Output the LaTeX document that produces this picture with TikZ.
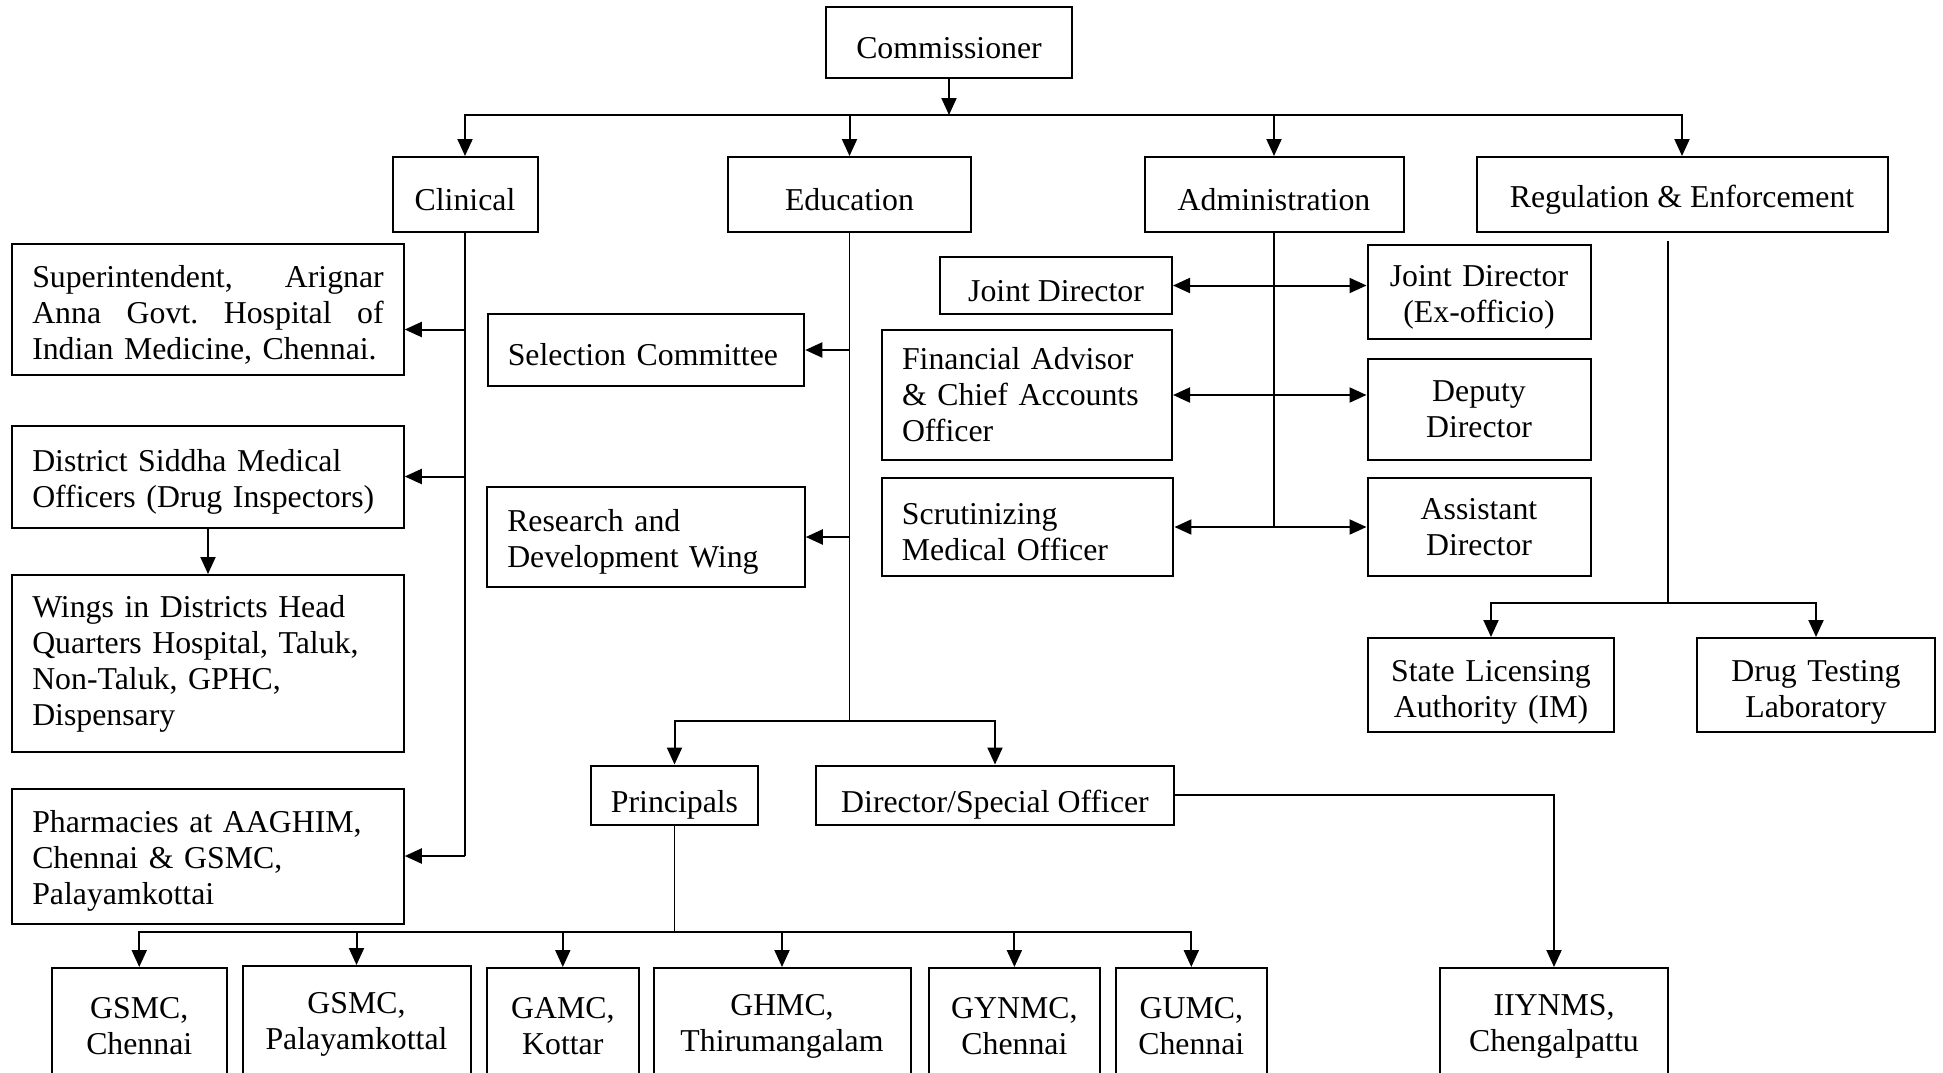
\documentclass[tikz,border=0pt]{standalone}
\usepackage{fontspec}
\setmainfont{Liberation Serif}
\usetikzlibrary{arrows.meta,positioning}
\newcommand{\boxfont}{\fontsize{31.8}{36}\selectfont}

\begin{document}
\begin{tikzpicture}[x=1pt,y=-1pt,line width=1.8pt,
    unit/.style={draw, line width=2pt, inner sep=0pt, font=\boxfont, align=center, execute at begin node={\rule{0pt}{32pt}}},
    lunit/.style={unit, align=left, inner xsep=20pt},
    low/.style={execute at begin node={\rule{0pt}{42pt}}},
    arr/.style={line width=2pt, -{Triangle[length=17pt,width=15pt]}},
    darr/.style={line width=2pt, {Triangle[length=17pt,width=15pt]}-{Triangle[length=17pt,width=15pt]}}]
    \path[use as bounding box, fill=white] (0,0) rectangle (1943,1072);

    \node[unit, minimum width=246pt, minimum height=71pt] (comm) at (949,42.5) {Commissioner};
    \node[unit, minimum width=145pt, minimum height=75pt] (clin) at (465,194.5) {Clinical};
    \node[unit, minimum width=243pt, minimum height=75pt] (edu) at (849.5,194.5) {Education};
    \node[unit, minimum width=259pt, minimum height=75pt] (adm) at (1274,194.5) {Administration};
    \node[unit, minimum width=411pt, minimum height=75pt] (reg) at (1682,194.5) {Regulation \& Enforcement};

    \node[lunit, text width=351.5pt, minimum height=131pt] (sup) at (208,309.5) {Superintendent,\hfill Arignar\\Anna\hfill Govt.\hfill Hospital\hfill of\\Indian Medicine, Chennai.};
    \node[lunit, text width=351.5pt, minimum height=102pt] (dso) at (208,476.5) {District Siddha Medical\\Officers (Drug Inspectors)};
    \node[lunit, text width=351.5pt, minimum height=177pt, execute at end node={\rule[-16pt]{0pt}{0pt}}] (wing) at (208,663.5) {Wings in Districts Head\\Quarters Hospital, Taluk,\\Non-Taluk, GPHC,\\Dispensary};
    \node[lunit, text width=351.5pt, minimum height=135pt] (phar) at (208,856) {Pharmacies at AAGHIM,\\Chennai \& GSMC,\\Palayamkottai};

    \node[lunit, text width=276.5pt, minimum height=72pt] (sel) at (646,350) {Selection Committee};
    \node[lunit, text width=277.5pt, minimum height=100pt] (rnd) at (646,537) {Research and\\Development Wing};
    \node[unit, low, minimum width=167pt, minimum height=59pt] (prin) at (674.5,795) {Principals};
    \node[unit, low, minimum width=358pt, minimum height=59pt] (dir) at (995,795) {Director/Special Officer};

    \node[unit, minimum width=232pt, minimum height=57pt] (jd) at (1056,285.5) {Joint Director};
    \node[unit, text width=223pt, minimum height=94pt] (jdx) at (1479,292) {Joint Director\\(Ex-officio)};
    \node[lunit, text width=250pt, minimum height=130pt, execute at end node={\rule[-12pt]{0pt}{0pt}}] (fin) at (1027,395) {Financial Advisor\\\& Chief Accounts\\Officer};
    \node[unit, minimum width=223pt, minimum height=101pt] (dd) at (1479,409.5) {Deputy\\Director};
    \node[lunit, text width=251.5pt, minimum height=98pt] (smo) at (1027.7,527) {Scrutinizing\\Medical Officer};
    \node[unit, minimum width=223pt, minimum height=98pt] (ad) at (1479,527) {Assistant\\Director};

    \node[unit, text width=246pt, minimum height=94pt, execute at begin node={\rule{0pt}{35pt}}] (sla) at (1491,685) {State Licensing\\Authority (IM)};
    \node[unit, text width=238pt, minimum height=94pt, execute at begin node={\rule{0pt}{35pt}}] (dtl) at (1816,685) {Drug Testing\\Laboratory};

    \node[unit, minimum width=174.5pt, minimum height=116pt] (b1) at (139.25,1026) {GSMC,\\Chennai};
    \node[unit, minimum width=228pt, minimum height=116pt] (b2) at (356.5,1024) {GSMC,\\Palayamkottal};
    \node[unit, minimum width=152.4pt, minimum height=116pt] (b3) at (562.8,1026) {GAMC,\\Kottar};
    \node[unit, minimum width=257pt, minimum height=116pt] (b4) at (782,1026) {GHMC,\\Thirumangalam};
    \node[unit, minimum width=171.2pt, minimum height=116pt] (b5) at (1014.4,1026) {GYNMC,\\Chennai};
    \node[unit, minimum width=150.7pt, minimum height=116pt] (b6) at (1191.3,1026) {GUMC,\\Chennai};
    \node[unit, minimum width=228pt, minimum height=116pt] (iiy) at (1554,1026) {IIYNMS,\\Chengalpattu};

    \coordinate (top) at (949,115);
    \draw[arr] (comm) -- (top);
    \foreach \d in {clin,edu,adm,reg} \draw[arr] (top) -| (\d);

    \draw (clin.south) -- (clin.south |- phar.east);
    \coordinate (supin) at ([yshift=-20pt]sup.east);
    \draw[arr] (clin.south |- supin) -- (supin);
    \draw[arr] (clin.south |- dso.east) -- (dso.east);
    \draw[arr] (clin.south |- phar.east) -- (phar.east);
    \draw[arr] (dso) -- (wing);

    \coordinate (efork) at (849.5,721);
    \draw (edu.south) -- (efork);
    \draw[arr] (edu.south |- sel.east) -- (sel.east);
    \draw[arr] (edu.south |- rnd.east) -- (rnd.east);
    \draw[arr] (efork) -| (prin);
    \draw[arr] (efork) -| (dir);
    \coordinate (pfork) at (674.5,932);
    \draw (prin.south) -- (pfork);
    \foreach \b in {b1,b2,b3,b4,b5,b6} \draw[arr] (pfork) -| (\b);
    \draw[arr] (dir.east) -| (iiy);

    \draw (adm.south) -- (adm.south |- smo.east);
    \draw[darr] (jd.east) -- (jd.east -| jdx.west);
    \draw[darr] (fin.east) -- (fin.east -| dd.west);
    \draw[darr] (smo.east) -- (ad.west);

    \coordinate (rtop) at (1668,241);
    \coordinate (rfork) at (1668,603);
    \draw (rtop) -- (rfork);
    \draw[arr] (rfork) -| (sla);
    \draw[arr] (rfork) -| (dtl);
\end{tikzpicture}
\end{document}
